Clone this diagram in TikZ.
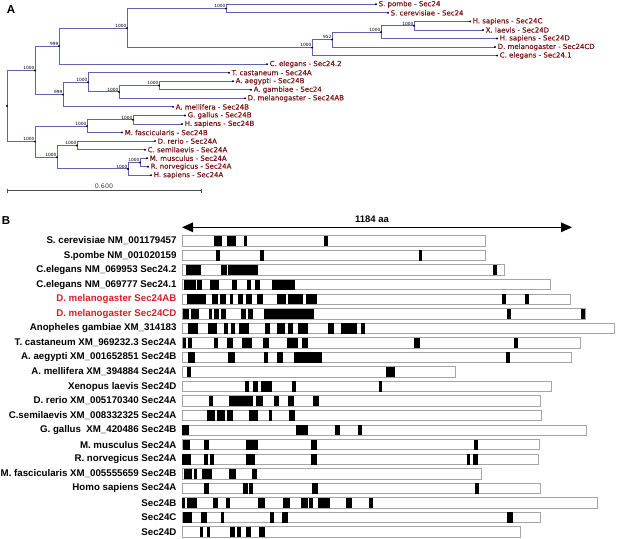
\documentclass[tikz,border=0pt]{standalone}
\usepackage{fontspec}
\setmainfont{Liberation Sans}
\newfontfamily\dvs{DejaVu Sans}
\newfontfamily\dvsb[FakeBold=0.35]{DejaVu Sans}
\usetikzlibrary{arrows.meta}
\definecolor{treeblue}{RGB}{96,96,180}
\definecolor{leafred}{RGB}{122,22,22}
\definecolor{hired}{RGB}{212,32,42}
\definecolor{bargray}{RGB}{165,165,165}
\tikzset{
  treeline/.style={draw=treeblue, line width=0.9pt},
  leaflab/.style={anchor=west, inner sep=0pt, xshift=2.5pt, font=\dvsb\fontsize{7}{8}\selectfont, text=leafred},
  boot/.style={anchor=south east, inner sep=0.4pt, font=\dvs\fontsize{4.3}{5}\selectfont},
  rowlabel/.style={anchor=east, inner sep=0pt, font=\bfseries\fontsize{9.7}{11}\selectfont},
  barbox/.style={draw=bargray, line width=0.9pt, fill=white},
  panel/.style={font=\bfseries\fontsize{11.5}{13}\selectfont, inner sep=0pt},
}
\newcommand\seqrow[5]{%
  \node[rowlabel] (lab#1) at (176.7,#2) {#5};
  \draw[barbox] (182,#2-5.2) rectangle (#3,#2+5.2);
  \foreach \a/\b in {#4} {\fill[black] (\a,#2-5.2) rectangle (\b,#2+5.2);}
}
\begin{document}
\begin{tikzpicture}[x=1pt,y=-1pt]
\fill[white] (0,0) rectangle (617,538);
\useasboundingbox (0,0) rectangle (617,538);

% ---------------- Panel A ----------------
\node[panel] (pA) at (11,9.3) {A};

\foreach \n/\x/\y/\t in {
 l0/376/4.3/S. pombe - Sec24,
 l1/388/12.85/S. cerevisiae - Sec24,
 l2/470/21.4/H. sapiens - Sec24C,
 l3/483/29.95/X. laevis - Sec24D,
 l4/497/38.5/H. sapiens - Sec24D,
 l5/495/47.05/D. melanogaster - Sec24CD,
 l6/497/55.6/C. elegans - Sec24.1,
 l7/267/64.15/C. elegans - Sec24.2,
 l8/229/72.7/T. castaneum - Sec24A,
 l9/233/81.25/A. aegypti - Sec24B,
 l10/251/89.8/A. gambiae - Sec24,
 l11/245/98.35/D. melanogaster - Sec24AB,
 l12/173/106.9/A. mellifera - Sec24B,
 l13/185/115.45/G. gallus - Sec24B,
 l14/182/124/H. sapiens - Sec24B,
 l15/122/132.55/M. fascicularis - Sec24B,
 l16/155/141.1/D. rerio - Sec24A,
 l17/145/149.65/C. semilaevis - Sec24A,
 l18/147/158.2/M. musculus - Sec24A,
 l19/148/166.75/R. norvegicus - Sec24A,
 l20/151/175.3/H. sapiens - Sec24A}
{
  \coordinate (\n) at (\x,\y);
  \node[leaflab] (t\n) at (\n) {\t};
}

\foreach \n/\x/\y/\v in {
 n4/226/8.6/1000, n8/414/25.7/1000, n7/381/32.1/1000, n6/332/39.6/952,
 n5/312/47.6/1000, n3/127/28.1/1000, n2/59/46.1/999, n12/159/85.5/1000,
 n11/119/91.9/1000, n10/88/82.3/1000, n9/63/94.6/999, n1/35/70.4/1000,
 n15/133/119.7/1000, n14/87/126.1/1000, n17/77/145.4/1000, n19/140/162.5/1000,
 n18/128/168.9/1000, n16/57/157.2/1000, n13/35/141.6/1000}
{
  \coordinate (\n) at (\x,\y);
  \node[boot] (b\n) at (\n) {\v};
}
\coordinate (root) at (7,106);

\foreach \p/\c in {
 n4/l0, n4/l1, n8/l2, n8/l3, n7/n8, n7/l4, n6/n7, n6/l5, n5/n6, n5/l6,
 n3/n4, n3/n5, n2/n3, n2/l7, n12/l9, n12/l10, n11/n12, n11/l11,
 n10/l8, n10/n11, n9/n10, n9/l12, n1/n2, n1/n9,
 n15/l13, n15/l14, n14/n15, n14/l15, n17/l16, n17/l17, n19/l18, n19/l19,
 n18/n19, n18/l20, n16/n17, n16/n18, n13/n14, n13/n16, root/n1, root/n13}
{ \draw[treeline] (\p) |- (\c); }

\foreach \n in {l0,l1,l2,l3,l4,l5,l6,l7,l8,l9,l10,l11,l12,l13,l14,l15,l16,l17,l18,l19,l20,
 n1,n2,n3,n4,n5,n6,n7,n8,n9,n10,n11,n12,n13,n14,n15,n16,n17,n18,n19,root}
{ \fill[black] (\n) circle (1.1pt); }

% scale bar
\coordinate (sb1) at (7,190.7);
\coordinate (sb2) at (201.7,190.7);
\draw[draw=black!70, line width=0.6pt] (sb1) -- (sb2);
\draw[draw=black!70, line width=0.6pt] ([yshift=-2pt]sb1) -- ([yshift=2pt]sb1);
\draw[draw=black!70, line width=0.6pt] ([yshift=-2pt]sb2) -- ([yshift=2pt]sb2);
\node[font=\dvs\fontsize{6.3}{7}\selectfont, text=black!75, inner sep=0pt] (sbl) at (104,186.3) {0.600};

% ---------------- Panel B ----------------
\node[panel] (pB) at (6,220.7) {B};
\coordinate (arL) at (182,227.3);
\coordinate (arR) at (572,227.3);
\draw[line width=1.4pt, {Triangle[length=11pt,width=9.5pt]}-{Triangle[length=11pt,width=9.5pt]}] (arL) -- (arR);
\node[font=\bfseries\fontsize{9.5}{11}\selectfont, inner sep=0pt] (aa) at (372,219.3) {1184 aa};

\seqrow{0}{241}{485.7}{214.3/221.7, 227/235.7, 244.3/247, 323.7/327.7}{S. cerevisiae NM\_001179457}
\seqrow{1}{255.6}{485.7}{215.7/219.7, 259.7/263.7, 419.3/422.3}{S.pombe NM\_001020159}
\seqrow{2}{270.1}{504}{185.5/201, 221.3/226.7, 228/258.3, 493.3/497.3}{C.elegans NM\_069953 Sec24.2}
\seqrow{3}{284.7}{550.7}{184.3/195.5, 196.7/202.3, 209.8/219.2, 232.3/236.7, 246.5/250.5, 255.3/259.8, 272.2/295}{C.elegans NM\_069777 Sec24.1}
\seqrow{4}{299.2}{570}{187.3/206.3, 211.7/217.5, 219.5/225.8, 230.2/233.2, 237.5/242.5, 246.2/251.5, 256.8/262.5, 276.5/286.3, 288.2/303.3, 305.5/317.2, 502/506, 525.3/529.3}{\textcolor{hired}{D. melanogaster Sec24AB}}
\seqrow{5}{313.8}{585}{183/188.7, 190.8/199.3, 209.2/212, 213.7/219.2, 220.9/226.3, 240.9/246.3, 247.8/252.8, 264.3/314.2, 507.3/511.3, 581/585}{\textcolor{hired}{D. melanogaster Sec24CD}}
\seqrow{6}{328.3}{614}{188.3/197.5, 207.5/216.7, 223.5/227.5, 230.5/235.3, 239/249, 265/269.7, 277.3/285, 288.3/293.3, 297.7/308.3, 327.5/334, 340.5/357, 361.2/364.5}{Anopheles gambiae XM\_314183}
\seqrow{7}{342.9}{580.7}{182.5/186.2, 187.8/192.3, 213.5/217.7, 226.7/232.8, 242.3/251.7, 263.3/268.8, 287.3/297.5, 301.7/308.3, 414.3/420.3, 513.7/517.7}{T. castaneum XM\_969232.3 Sec24A}
\seqrow{8}{357.4}{571.7}{188/195, 227.7/235, 263.5/268.3, 277/283, 294.3/321.7, 505.7/510}{A. aegypti XM\_001652851 Sec24B}
\seqrow{9}{372}{455}{187.3/191, 385.7/395}{A. mellifera XM\_394884 Sec24A}
\seqrow{10}{386.5}{551}{245/249, 253.3/258.3, 261/271.7, 291.7/295.7, 378.5/381.7}{Xenopus laevis Sec24D}
\seqrow{11}{401}{540.7}{209/212.7, 229/253.3, 256/263.3, 274.3/278.7, 288.3/294, 312.7/318.8}{D. rerio XM\_005170340 Sec24A}
\seqrow{12}{415.6}{541.7}{206.7/215, 217.3/225, 226.7/232.7, 249/258.3, 269/271.7, 289.3/295}{C.semilaevis XM\_008332325 Sec24A}
\seqrow{13}{430.2}{586.7}{181.7/189, 296/307.7, 335/340, 357.7/361.7}{G. gallus\ \ XM\_420486 Sec24B}
\seqrow{14}{444.7}{539}{183.3/190, 204.3/208.7, 245.7/258.3, 310.9/316.8, 474/478}{M. musculus Sec24A}
\seqrow{15}{459.3}{538.7}{181.7/191, 204.3/208.3, 209.7/213.7, 245.7/255, 310.7/316.7, 466.7/470, 473.3/477.7}{R. norvegicus Sec24A}
\seqrow{16}{473.8}{481.7}{184.3/192.3, 194/197, 202.3/211.7, 229.3/236, 252.3/256.7}{M. fascicularis XM\_005555659 Sec24B}
\seqrow{17}{488.4}{540.3}{204.3/208.7, 243.3/247.7, 249/253, 311.7/318.3, 474.7/479}{Homo sapiens Sec24A}
\seqrow{18}{502.9}{597}{181.7/185, 187.3/196.7, 212.7/217.7, 225.7/230, 257.7/265, 282.7/290, 300.7/307.8, 309.2/312.5, 318.3/329.8, 345.8/352.3, 368.5/373.2}{Sec24B}
\seqrow{19}{517.5}{540}{183.3/191.7, 200.7/206.7, 220.7/224, 270.3/273.7, 282.3/287.7, 506.7/513.3}{Sec24C}
\seqrow{20}{532}{520}{200/202.7, 207/210, 230/235, 236.7/241, 246/251, 259/265}{Sec24D}
\end{tikzpicture}
\end{document}
